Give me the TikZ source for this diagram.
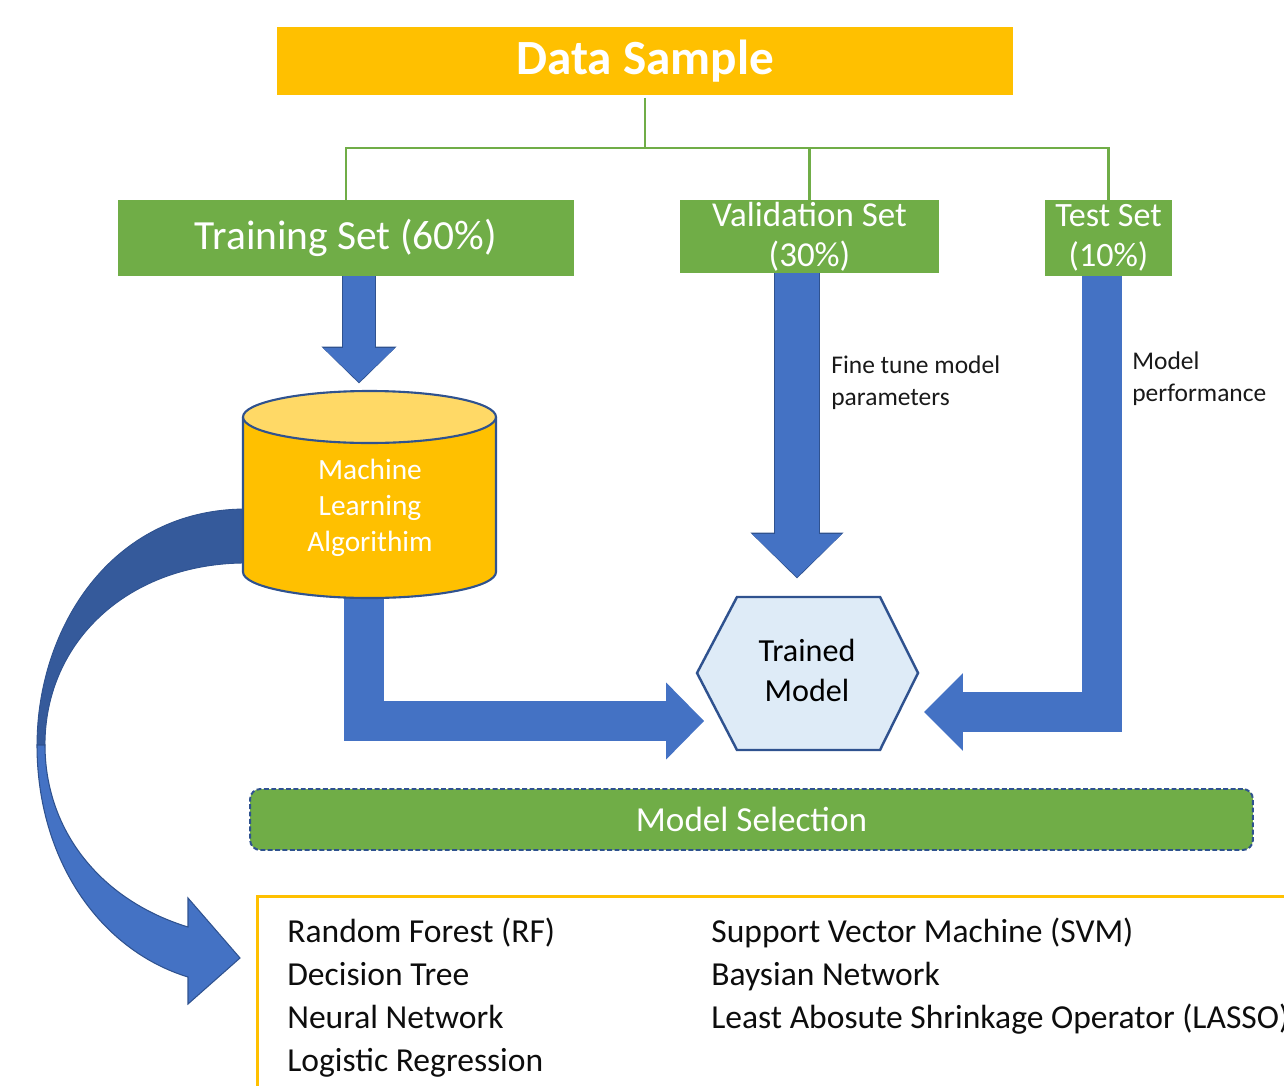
\documentclass[tikz,border=0pt]{standalone}
\usepackage{fontspec}
\setmainfont{Carlito}
\usetikzlibrary{arrows.meta,calc,positioning}

\definecolor{gold}{HTML}{FFC000}
\definecolor{lightgold}{HTML}{FFD966}
\definecolor{leaf}{HTML}{70AD47}
\definecolor{arrowblue}{HTML}{4472C4}
\definecolor{edgeblue}{HTML}{2F528F}
\definecolor{shadeblue}{HTML}{355A9B}
\definecolor{paleblue}{HTML}{DEEBF7}

\tikzset{
  greenbox/.style={fill=leaf, text=white, inner sep=0pt, align=center},
  greenline/.style={draw=leaf, line width=1.4pt},
  fatarrow/.style={draw=arrowblue, line join=miter},
  fatedge/.style={draw=edgeblue, line join=miter},
  notetext/.style={font=\fontsize{14.5}{18.7}\selectfont, text=black!90, align=left, inner sep=0pt, anchor=north west},
  algtext/.style={font=\fontsize{19.1}{24.4}\selectfont, text=black!95, inner sep=0pt, anchor=base west},
}

\begin{document}
\begin{tikzpicture}[x=0.02cm, y=-0.02cm]
\useasboundingbox (0,0) rectangle (1284,1085);
\clip (0,0) rectangle (1284,1085);

% split of the data
\node[fill=gold, text=white, inner sep=0pt, minimum width=14.72cm, minimum height=1.36cm,
      font=\bfseries\fontsize{28}{34}\selectfont] (ds) at (645,61) {Data Sample};
\node[greenbox, minimum width=9.12cm, minimum height=1.52cm, font=\fontsize{23.6}{28}\selectfont]
      (train) at (346,238) {Training Set (60\%)};
\node[greenbox, minimum width=5.18cm, minimum height=1.46cm, font=\fontsize{19.9}{22.7}\selectfont]
      (val) at (809.5,236.5) {Validation Set\\(30\%)};
\node[greenbox, minimum width=2.54cm, minimum height=1.52cm, font=\fontsize{19.4}{22.7}\selectfont]
      (test) at (1108.5,238) {Test Set\\(10\%)};

\coordinate (split) at (645,148);
\draw[greenline] ([yshift=-1.5pt]ds.south) -- (split);
\draw[greenline] (train.north) |- (split) -| (test.north);
\draw[greenline] (val.north) -- (val.north |- split);

% curved arrow to the list of algorithms
\filldraw[fill=shadeblue, draw=edgeblue, line width=0.5pt] (246,509) .. controls (110,509) and (37,630) .. (37,745)
    -- (45,745) .. controls (45,640) and (130,563) .. (246,563) -- cycle;
\filldraw[fill=arrowblue, draw=edgeblue, line width=0.6pt] (37,745) .. controls (37,860) and (100,950) .. (188,977)
    -- (188,1004) -- (240,958) -- (188,898) -- (188,927) .. controls (100,900) and (45,830) .. (45,745) -- cycle;

% arrow from the algorithm to the trained model
\coordinate (cylbot) at (364,585);
\coordinate (tmtipL) at (704,721);
\draw[fatarrow, line width=23.2pt, -{Triangle[length=21.5pt, width=43.7pt, line width=0pt]}] (cylbot) |- (tmtipL);

% machine learning algorithm
\fill[gold] (243,417) rectangle (496,572);
\fill[gold] (369.5,572) ellipse [x radius=126.5, y radius=26];
\draw[edgeblue, line width=1.2pt] (243,417) -- (243,572) arc[start angle=180, end angle=0, x radius=126.5, y radius=26] -- (496,417);
\filldraw[fill=lightgold, draw=edgeblue, line width=1.2pt] (369.5,417) ellipse [x radius=126.5, y radius=26];
\node[font=\fontsize{16.7}{20.4}\selectfont, text=white, align=center] (mla) at (370,508) {Machine\\Learning\\Algorithim};

% trained model
\filldraw[fill=paleblue, draw=edgeblue, line width=1.4pt] (697,673) -- (737,597) -- (880,597) -- (918,673) -- (880,750) -- (737,750) -- cycle;
\node[font=\fontsize{18.3}{22.7}\selectfont, align=center] (tm) at (807,670) {Trained\\Model};

% arrows from the sets
\coordinate (mlatip) at (359,382);
\draw[fatedge, line width=19.4pt, -{Triangle[length=21pt, width=42.8pt, line width=0pt]}] (mlatip |- train.south) -- ([yshift=-0.8pt]mlatip);
\draw[fatarrow, line width=18.1pt, -{Triangle[length=19.3pt, width=40.8pt, line width=0pt]}] (mlatip |- train.south) -- (mlatip);
\coordinate (valtip) at (797,577);
\draw[fatedge, line width=26.2pt, -{Triangle[length=26.1pt, width=53pt, line width=0pt]}] (valtip |- val.south) -- ([yshift=-0.8pt]valtip);
\draw[fatarrow, line width=24.9pt, -{Triangle[length=24.4pt, width=51pt, line width=0pt]}] (valtip |- val.south) -- (valtip);
\coordinate (testbend) at (1102,712);
\coordinate (tmtipR) at (924,712);
\draw[fatarrow, line width=22.7pt, -{Triangle[length=22.1pt, width=44.2pt, line width=0pt]}] (testbend |- test.south) -- (testbend) -- (tmtipR);

\node[notetext] (tune) at (831,355) {Fine tune model\\parameters};
\node[notetext] (perf) at (1132,351) {Model\\performance};

% model selection
\node[fill=leaf, draw=edgeblue, line width=1.1pt, dash pattern=on 2.8pt off 1.4pt, rounded corners=5.7pt,
      minimum width=20.06cm, minimum height=1.22cm, text=white, font=\fontsize{20}{24}\selectfont]
      (ms) at (751.5,819.5) {Model Selection};

% list of algorithms
\node[draw=gold, line width=1.5pt, minimum width=22cm, minimum height=5cm, anchor=north west] (alglist) at (256,895) {};
\foreach \alg [count=\i] in {Random Forest (RF), Decision Tree, Neural Network, Logistic Regression}
  \node[algtext] (left\i) at (287,{942+43*(\i-1)}) {\alg};
\foreach \alg [count=\i] in {Support Vector Machine (SVM), Baysian Network, Least Abosute Shrinkage Operator (LASSO)}
  \node[algtext] (right\i) at (711,{942+43*(\i-1)}) {\alg};
\end{tikzpicture}
\end{document}
